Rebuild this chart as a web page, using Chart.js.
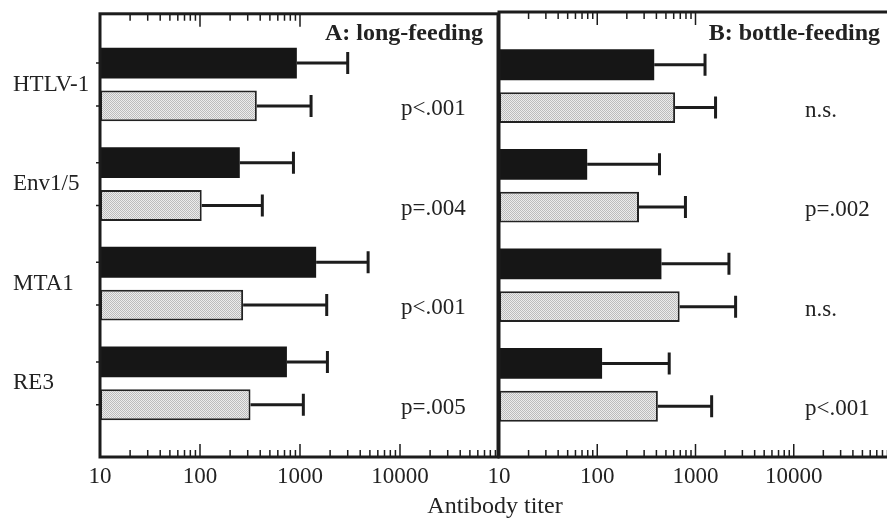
<!DOCTYPE html>
<html><head><meta charset="utf-8">
<script src="https://cdn.jsdelivr.net/npm/chart.js@4/dist/chart.umd.min.js"></script>
<style>
html,body{margin:0;padding:0;background:#fff;overflow:hidden;width:887px;height:518px;position:relative;}
#wa{position:absolute;left:0;top:0;width:500px;height:518px;}
#wb{position:absolute;left:480px;top:0;width:420px;height:518px;}
#xt{position:absolute;left:0;width:990px;top:493px;text-align:center;font:24px 'Liberation Serif','Times New Roman',serif;color:#222;line-height:24px;}
</style></head><body>
<div id="wa"><canvas id="ca"></canvas></div>
<div id="wb"><canvas id="cb"></canvas></div>
<div id="xt">Antibody titer</div>
<script>
// ---- data ----
const categories = ['HTLV-1', 'Env1/5', 'MTA1', 'RE3'];
const panelTitles = ['A: long-feeding', 'B: bottle-feeding'];
const xTickLabels = [10, 100, 1000, 10000];

// Panel A: long-feeding
const longBlack      = [930, 250, 1450, 740];
const longBlackErr   = [3000, 860, 4800, 1880];
const longDotted     = [370, 104, 270, 320];
const longDottedErr  = [1290, 420, 1850, 1080];
const longP          = ['p<.001', 'p=.004', 'p<.001', 'p=.005'];

// Panel B: bottle-feeding
const bottleBlack     = [380, 79, 450, 112];
const bottleBlackErr  = [1250, 430, 2190, 540];
const bottleDotted    = [620, 266, 690, 414];
const bottleDottedErr = [1600, 790, 2560, 1460];
const bottleP         = ['n.s.', 'p=.002', 'n.s.', 'p<.001'];

// ---- styling helpers ----
const SERIF = "'Liberation Serif','Times New Roman',serif";
const INK = '#1c1c1c';

function makePattern() {
  const pc = document.createElement('canvas');
  pc.width = 2; pc.height = 2;
  const g = pc.getContext('2d');
  g.fillStyle = '#ececec'; g.fillRect(0, 0, 2, 2);
  g.fillStyle = '#bcbcbc'; g.fillRect(0, 0, 1, 1); g.fillRect(1, 1, 1, 1);
  return g.createPattern(pc, 'repeat');
}
const dotPattern = makePattern();

const panelPlugin = {
  id: 'panel',
  afterDatasetsDraw(chart, args, opts) {
    const ctx = chart.ctx, xs = chart.scales.x, ca = chart.chartArea;
    ctx.save();
    ctx.strokeStyle = INK;
    ctx.lineWidth = 3;
    ctx.lineCap = 'butt';
    // error bars
    opts.errs.forEach((errArr, di) => {
      const meta = chart.getDatasetMeta(di);
      meta.data.forEach((bar, i) => {
        const x0 = bar.x, y = bar.y, x1 = xs.getPixelForValue(errArr[i]);
        ctx.beginPath();
        ctx.moveTo(x0, y); ctx.lineTo(x1, y);
        ctx.moveTo(x1, y - 11); ctx.lineTo(x1, y + 11);
        ctx.stroke();
      });
    });
    // frame
    ctx.strokeRect(ca.left, ca.top, ca.right - ca.left, ca.bottom - ca.top);
    // log ticks
    ctx.lineWidth = 1.5;
    ctx.beginPath();
    for (let d = 1; d <= 4; d++) {
      const dec = Math.pow(10, d);
      for (let m = 1; m <= 9; m++) {
        const v = m * dec;
        if (v <= xs.min || v >= xs.max) continue;
        const px = xs.getPixelForValue(v);
        const len = m === 1 ? 13 : 7;
        ctx.moveTo(px, ca.bottom); ctx.lineTo(px, ca.bottom - len);
        if (v <= 1000) { ctx.moveTo(px, ca.top); ctx.lineTo(px, ca.top + len); }
      }
    }
    ctx.stroke();
    // small left ticks at bars
    if (opts.leftTicks) {
      ctx.beginPath();
      for (let di = 0; di < 2; di++) {
        chart.getDatasetMeta(di).data.forEach(bar => {
          ctx.moveTo(ca.left - 4, bar.y); ctx.lineTo(ca.left, bar.y);
        });
      }
      ctx.stroke();
    }
    // title
    ctx.fillStyle = '#222';
    ctx.font = 'bold 24px ' + SERIF;
    ctx.textAlign = 'right';
    ctx.textBaseline = 'alphabetic';
    ctx.fillText(opts.title, ca.right - opts.titleInset, 40);
    // p-values
    ctx.font = '23px ' + SERIF;
    ctx.textAlign = 'left';
    const dm = chart.getDatasetMeta(1);
    opts.pvals.forEach((t, i) => {
      ctx.fillText(t, ca.left + opts.pOffset, dm.data[i].y + 9);
    });
    ctx.restore();
  }
};

function makeChart(canvasId, black, blackErr, dotted, dottedErr, pvals, title, cfg) {
  return new Chart(document.getElementById(canvasId), {
    type: 'bar',
    data: {
      datasets: [
        { label: 'black', data: black.map((v, i) => ({ x: v, y: i })),
          backgroundColor: '#161616', borderWidth: 0,
          categoryPercentage: 0.86, barPercentage: 0.72 },
        { label: 'dotted', data: dotted.map((v, i) => ({ x: v, y: i })),
          backgroundColor: dotPattern, borderColor: '#222', borderWidth: 2, borderSkipped: false,
          categoryPercentage: 0.86, barPercentage: 0.72 }
      ]
    },
    options: {
      indexAxis: 'y',
      responsive: true,
      maintainAspectRatio: false,
      animation: false,
      devicePixelRatio: 1,
      layout: { padding: cfg.padding },
      scales: {
        x: {
          type: 'logarithmic', min: 10, max: cfg.xmax,
          grid: { display: false, drawTicks: false },
          border: { display: false },
          afterBuildTicks: s => { s.ticks = xTickLabels.map(v => ({ value: v })); },
          afterFit: s => { s.height = 61; },
          ticks: { autoSkip: false, maxRotation: 0, padding: 6, color: '#222',
                   font: { family: SERIF, size: 23 }, callback: v => String(v) }
        },
        y: {
          type: 'linear', reverse: true, offset: false, min: cfg.ymin, max: cfg.ymax,
          display: cfg.showY,
          grid: { display: false, drawTicks: false, offset: false },
          border: { display: false },
          afterBuildTicks: s => { s.ticks = categories.map((c, i) => ({ value: i })); },
          afterFit: s => { if (cfg.showY) s.width = 87; },
          ticks: { autoSkip: false, crossAlign: 'far', padding: 0, color: '#222',
                   font: { family: SERIF, size: 23 }, callback: v => categories[v] }
        }
      },
      plugins: {
        legend: { display: false },
        tooltip: { enabled: false },
        panel: { errs: [blackErr, dottedErr], pvals: pvals, title: title,
                 titleInset: cfg.titleInset, pOffset: cfg.pOffset, leftTicks: cfg.showY }
      }
    },
    plugins: [panelPlugin]
  });
}

makeChart('ca', longBlack, longBlackErr, longDotted, longDottedErr, longP, panelTitles[0], {
  padding: { left: 13, right: 2, top: 12, bottom: 0 },
  xmax: Math.pow(10, 4.98), ymin: -0.71, ymax: 3.74, showY: true, titleInset: 15, pOffset: 301
});
makeChart('cb', bottleBlack, bottleBlackErr, bottleDotted, bottleDottedErr, bottleP, panelTitles[1], {
  padding: { left: 19, right: 8, top: 12, bottom: 0 },
  xmax: 100000, ymin: -0.745, ymax: 3.725, showY: false, titleInset: 12, pOffset: 306
});
</script>
</body></html>
